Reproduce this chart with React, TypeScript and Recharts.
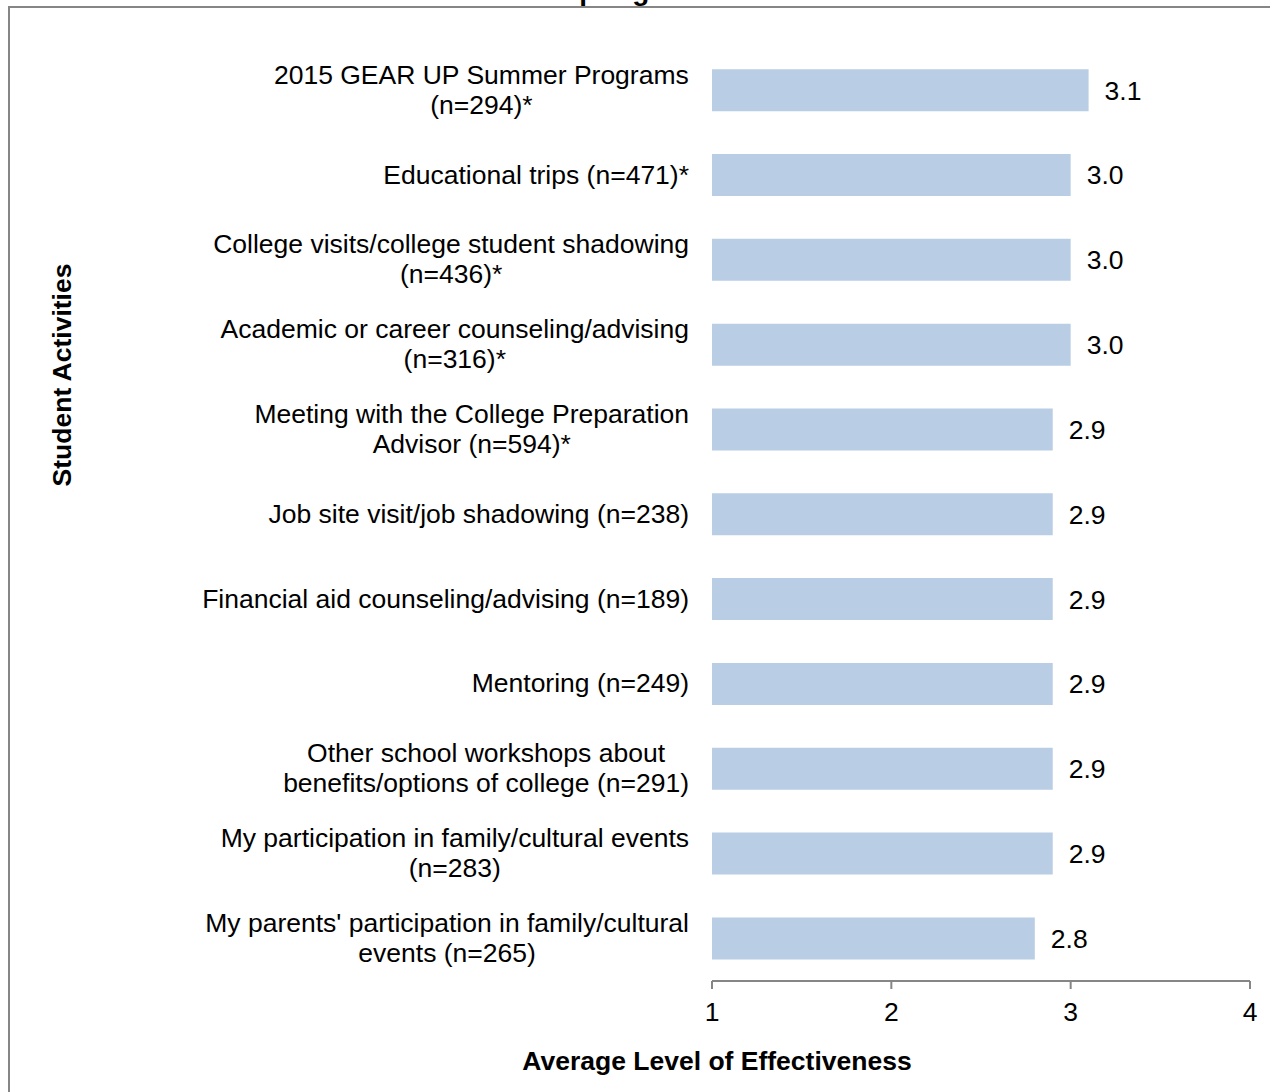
import { BarChart, Bar, XAxis, YAxis, LabelList } from "recharts";

const activities = [
  "2015 GEAR UP Summer Programs\n(n=294)*",
  "Educational trips (n=471)*",
  "College visits/college student shadowing\n(n=436)*",
  "Academic or career counseling/advising\n(n=316)*",
  "Meeting with the College Preparation\nAdvisor (n=594)*",
  "Job site visit/job shadowing (n=238)",
  "Financial aid counseling/advising (n=189)",
  "Mentoring (n=249)",
  "Other school workshops about\nbenefits/options of college (n=291)",
  "My participation in family/cultural events\n(n=283)",
  "My parents' participation in family/cultural\nevents (n=265)",
];
const effectiveness = [3.1, 3.0, 3.0, 3.0, 2.9, 2.9, 2.9, 2.9, 2.9, 2.9, 2.8];
const xTicks = [1, 2, 3, 4];

const FONT = "'Liberation Sans', Arial, sans-serif";
const FS = 26.5;
const data = activities.map((name, i) => ({ name, value: effectiveness[i] }));

let ctx: CanvasRenderingContext2D | null = null;
function measure(s: string) {
  if (!ctx) ctx = document.createElement("canvas").getContext("2d");
  if (!ctx) return s.length * 13;
  ctx.font = `${FS}px ${FONT}`;
  return ctx.measureText(s).width;
}

function CategoryTick(props: any) {
  const { x, y, payload } = props;
  const lines: string[] = String(payload.value).split("\n");
  const w = Math.max(...lines.map(measure));
  const cx = x - w / 2;
  const start = y - ((lines.length - 1) * 30) / 2 - 1;
  return (
    <g>
      {lines.map((l, i) => (
        <text
          key={i}
          x={cx}
          y={start + i * 30}
          dy="0.35em"
          textAnchor="middle"
          fill="#000"
          fontSize={FS}
          fontFamily={FONT}
        >
          {l}
        </text>
      ))}
    </g>
  );
}

export default function App() {
  return (
    <div
      style={{
        position: "absolute",
        left: 0,
        top: 0,
        width: 1270,
        height: 1092,
        overflow: "hidden",
        background: "#fff",
        fontFamily: FONT,
      }}
    >
      <div
        style={{
          position: "absolute",
          left: 8,
          top: 6,
          width: 1270,
          height: 1100,
          borderLeft: "2px solid #868686",
          borderTop: "2px solid #868686",
        }}
      />
      <div
        style={{
          position: "absolute",
          left: 640 - 200,
          width: 400,
          top: -23,
          textAlign: "center",
          fontWeight: "bold",
          fontSize: 28,
          lineHeight: "28px",
        }}
      >
        Spring 2016
      </div>
      <div style={{ position: "absolute", left: 0, top: 0 }}>
        <BarChart
          width={1270}
          height={1092}
          data={data}
          layout="vertical"
          margin={{ top: 48, right: 20, bottom: 81, left: 0 }}
          barCategoryGap="25%"
        >
          <XAxis
            type="number"
            domain={[1, 4]}
            ticks={xTicks}
            allowDataOverflow
            stroke="#868686"
            strokeWidth={2}
            tickSize={8}
            tickMargin={13}
            tick={{ fill: "#000", fontSize: FS, fontFamily: FONT }}
          />
          <YAxis
            type="category"
            dataKey="name"
            width={712}
            axisLine={false}
            tickLine={false}
            tickSize={0}
            tickMargin={23}
            interval={0}
            tick={<CategoryTick />}
          />
          <Bar dataKey="value" fill="#b9cde5" isAnimationActive={false}>
            <LabelList
              dataKey="value"
              position="right"
              offset={16}
              formatter={(v: any) => Number(v).toFixed(1)}
              style={{ fill: "#000", fontSize: FS, fontFamily: FONT }}
            />
          </Bar>
        </BarChart>
      </div>
      <div
        style={{
          position: "absolute",
          left: 62 - 150,
          top: 375 - 15,
          width: 300,
          height: 30,
          lineHeight: "30px",
          textAlign: "center",
          fontWeight: "bold",
          fontSize: FS,
          transform: "rotate(-90deg)",
        }}
      >
        Student Activities
      </div>
      <div
        style={{
          position: "absolute",
          left: 717 - 250,
          top: 1061 - 15,
          width: 500,
          height: 30,
          lineHeight: "30px",
          textAlign: "center",
          fontWeight: "bold",
          fontSize: FS,
        }}
      >
        Average Level of Effectiveness
      </div>
    </div>
  );
}
